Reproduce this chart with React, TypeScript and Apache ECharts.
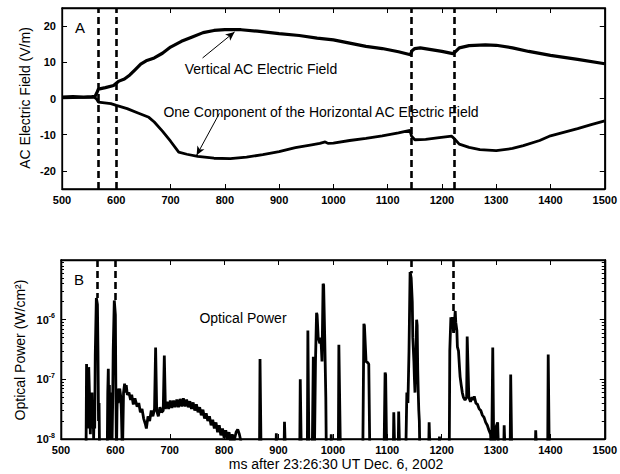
import React, { useEffect, useRef } from "react";
import * as echarts from "echarts";

// Time axis (ms after 23:26:30 UT, Dec. 6 2002)
const timeTicks = [500, 600, 700, 800, 900, 1000, 1100, 1200, 1300, 1400, 1500];
const fieldTicks = [-20, -10, 0, 10, 20];
const powerDecades = [1e-8, 1e-7, 1e-6];
const powerMinorTicks = [
  2e-8, 3e-8, 4e-8, 5e-8, 6e-8, 7e-8, 8e-8, 9e-8,
  2e-7, 3e-7, 4e-7, 5e-7, 6e-7, 7e-7, 8e-7, 9e-7,
  2e-6, 3e-6, 4e-6, 5e-6, 6e-6, 7e-6, 8e-6, 9e-6,
];
// Lightning stroke times (ms) and the optical peak reached at each
const strokeTimes = [566, 600, 1144, 1222];
const strokePeaks = [2.3e-6, 2.1e-6, 6e-6, 1.2e-6];

// Panel A: vertical AC electric field (V/m)
const verticalField: [number, number][] = [
  [500, 0.4], [520, 0.5], [540, 0.4], [555, 0.5], [561, 0.6], [564, 1.5], [567, 2.6],
  [580, 3.0], [595, 3.6], [600, 4.2], [605, 4.8], [615, 5.4], [625, 6.5], [635, 8.0],
  [645, 9.5], [655, 10.4], [670, 11.2], [685, 12.5], [700, 14.2], [720, 15.8],
  [740, 17.0], [760, 18.2], [780, 18.8], [800, 19.0], [830, 19.0], [860, 18.6],
  [900, 17.9], [937, 17.4], [970, 16.7], [1000, 16.2], [1030, 15.3], [1060, 14.4],
  [1090, 13.8], [1120, 12.9], [1142, 12.1], [1145, 13.2], [1150, 13.8], [1160, 14.0],
  [1180, 13.5], [1200, 13.0], [1220, 12.4], [1224, 12.8], [1232, 14.0], [1250, 14.6],
  [1280, 14.8], [1300, 14.7], [1330, 14.0], [1360, 13.0], [1400, 11.9], [1450, 10.8],
  [1500, 9.6],
];

// Panel A: one component of the horizontal AC electric field (V/m)
const horizontalField: [number, number][] = [
  [500, 0.2], [540, 0.3], [560, 0.3], [564, -0.2], [567, -1.0], [590, -1.4], [600, -1.9],
  [620, -2.8], [640, -4.0], [660, -5.2], [670, -6.5], [685, -9.0], [700, -11.8],
  [715, -14.8], [730, -15.4], [750, -16.0], [780, -16.5], [810, -16.6], [840, -16.2],
  [870, -15.5], [900, -14.7], [930, -13.6], [960, -12.8], [975, -12.4], [985, -12.0],
  [990, -12.4], [1000, -12.3], [1030, -11.6], [1060, -11.0], [1090, -10.3],
  [1120, -9.5], [1141, -8.8], [1144, -10.4], [1150, -11.4], [1170, -11.3],
  [1195, -10.8], [1218, -10.4], [1222, -11.0], [1232, -12.6], [1250, -13.5],
  [1270, -14.1], [1300, -14.4], [1330, -13.8], [1350, -13.0], [1380, -11.6],
  [1400, -10.3], [1450, -8.3], [1475, -7.2], [1500, -6.2],
];

// Panel B: optical power (W/cm^2); 5e-9 sits below the axis floor
const opticalPower: [number, number][] = [
  [500, 5e-9], [546, 5e-9], [547, 1.8e-7], [549, 4e-8], [550, 1.5e-8], [551, 1.6e-7],
  [553, 3.4e-8], [554, 1.2e-8], [555, 4e-8], [556, 2e-8], [557, 6e-8], [558, 1.5e-8],
  [559, 4e-8], [560, 1e-8], [561, 3e-8], [562, 1.5e-8], [563, 2.5e-7], [565, 2.3e-6],
  [567, 1.8e-6], [568, 3e-7], [569, 2e-8], [570, 4e-8], [571, 5e-9],
  [585, 5e-9], [586, 6e-8], [587, 1.5e-7], [588, 2e-8], [589, 8e-8], [590, 1e-8],
  [591, 5e-8], [592, 1.2e-8], [593, 6e-8], [594, 1e-8], [595, 4e-8], [596, 3e-7],
  [598, 2.1e-6], [600, 1.2e-6], [601, 5e-8], [602, 5e-9], [603, 3e-8], [604, 7e-8],
  [605, 4e-8], [606, 6e-8], [608, 7e-8], [610, 5e-8], [611, 3e-8], [613, 5e-9],
  [615, 6e-8], [617, 8.5e-8], [618, 6e-8], [620, 8e-8], [622, 5.5e-8], [625, 6e-8],
  [628, 4.5e-8], [630, 5.5e-8], [633, 3.8e-8], [636, 4.8e-8], [640, 3.5e-8], [643, 4e-8],
  [646, 2.8e-8], [649, 3.2e-8], [652, 2.2e-8], [655, 1.8e-8], [657, 1.5e-8], [660, 2.4e-8],
  [663, 2e-8], [666, 3e-8], [669, 2.4e-8], [672, 3.2e-8], [674, 3.4e-7], [676, 3e-8],
  [679, 2.4e-8], [682, 3.4e-8], [685, 2.8e-8], [688, 3e-8], [690, 2.5e-7], [692, 3.2e-8],
  [695, 4.2e-8], [698, 3.2e-8], [701, 4.4e-8], [704, 3.3e-8], [707, 4.4e-8], [710, 3.4e-8],
  [713, 4.6e-8], [716, 3.4e-8], [719, 4.7e-8], [722, 3.5e-8], [725, 4.8e-8], [728, 3.5e-8],
  [731, 4.6e-8], [734, 3.4e-8], [737, 4.3e-8], [740, 3.2e-8], [743, 4.1e-8], [746, 3e-8],
  [749, 3.8e-8], [752, 2.8e-8], [755, 3.4e-8], [758, 2.5e-8], [761, 3.1e-8], [764, 2.2e-8],
  [767, 2.7e-8], [770, 2e-8], [773, 2.4e-8], [776, 1.7e-8], [779, 2.1e-8], [782, 1.5e-8],
  [785, 1.9e-8], [788, 1.3e-8], [791, 1.7e-8], [794, 1.15e-8], [797, 1.5e-8], [800, 1.05e-8],
  [803, 1.4e-8], [806, 1e-8], [809, 1.3e-8], [812, 9e-9], [815, 1.2e-8], [818, 9e-9],
  [822, 1.3e-8], [825, 1.45e-8], [828, 1.2e-8], [831, 9e-9], [834, 5e-9],
  [865, 5e-9], [866, 2.2e-7], [867, 2.2e-7], [868, 5e-9], [895, 5e-9], [896, 1.25e-8],
  [897, 5e-9], [910, 5e-9], [911, 1.95e-8], [912, 1.95e-8], [913, 5e-9], [939, 5e-9],
  [940, 1e-7], [941, 1e-7], [942, 5e-9], [953, 5e-9], [954, 6.6e-7], [955, 6.6e-7],
  [956, 5e-9], [962, 5e-9], [964, 2.4e-7], [966, 5e-9], [968, 2e-7], [970, 1.3e-6],
  [971, 1.2e-6], [973, 5e-7], [976, 4e-7], [978, 5e-7], [980, 2e-7], [982, 4e-6],
  [983, 3.8e-6], [985, 5e-7], [987, 5e-8], [988, 5e-9], [996, 5e-9], [997, 1.2e-8],
  [998, 5e-9], [1010, 5e-9], [1011, 3.8e-7], [1012, 3.8e-7], [1014, 5e-9], [1055, 5e-9],
  [1057, 8.5e-7], [1058, 8e-7], [1061, 2e-7], [1064, 1.9e-7], [1066, 1.8e-7], [1068, 5e-9],
  [1094, 5e-9], [1096, 1.3e-7], [1097, 1.2e-7], [1099, 5e-9], [1111, 5e-9], [1112, 2.8e-8],
  [1113, 2.8e-8], [1114, 5e-9], [1120, 5e-9], [1121, 2.9e-8], [1122, 2.9e-8], [1123, 5e-9],
  [1134, 5e-9], [1136, 6e-8], [1138, 4e-8], [1140, 3e-7], [1142, 6.3e-6], [1144, 5e-6],
  [1146, 2e-6], [1147, 5e-7], [1149, 2e-7], [1150, 1e-7], [1151, 6e-8], [1153, 3e-7],
  [1154, 1e-6], [1155, 8e-7], [1156, 1.5e-7], [1157, 6e-8], [1158, 3e-8], [1159, 2e-8],
  [1160, 5e-9], [1176, 5e-9], [1177, 1.9e-8], [1178, 1.9e-8], [1179, 5e-9], [1195, 5e-9],
  [1196, 1.1e-8], [1197, 5e-9], [1214, 5e-9], [1215, 3e-7], [1217, 1.1e-6], [1219, 8e-7],
  [1220, 1.1e-6], [1222, 6e-7], [1224, 1e-6], [1225, 1.4e-6], [1226, 9e-7], [1228, 6.6e-7],
  [1229, 3.5e-7], [1231, 3e-7], [1233, 1.5e-7], [1234, 1.1e-7], [1236, 8e-8], [1238, 6e-8],
  [1240, 5e-8], [1243, 4.5e-8], [1246, 5e-8], [1247, 5.2e-7], [1248, 5.2e-7], [1250, 5e-8],
  [1253, 4.2e-8], [1256, 5e-8], [1258, 4.5e-8], [1260, 5.2e-8], [1263, 4e-8], [1266, 3.8e-8],
  [1269, 3.2e-8], [1272, 3e-8], [1275, 2.5e-8], [1278, 2.3e-8], [1281, 1.9e-8],
  [1284, 1.7e-8], [1287, 1.4e-8], [1290, 1.2e-8], [1292, 5e-9], [1294, 3.4e-7],
  [1295, 3.4e-7], [1296, 5e-9], [1299, 1.5e-8], [1303, 1.9e-8], [1305, 5e-9],
  [1314, 5e-9], [1315, 1.7e-8], [1316, 1.7e-8], [1317, 5e-9], [1326, 5e-9], [1327, 1.2e-7],
  [1328, 1.2e-7], [1329, 5e-9], [1372, 5e-9], [1373, 1.4e-8], [1374, 1.4e-8], [1375, 5e-9],
  [1395, 5e-9], [1396, 2.6e-7], [1397, 2.6e-7], [1398, 5e-9], [1500, 5e-9],
];

// Annotation arrows, in data coordinates [from, to]
const verticalArrow: [number, number][] = [[759, 11.2], [818, 18.4]];
const horizontalArrow: [number, number][] = [[790, -4.1], [748, -15.7]];

const FONT = "Liberation Sans, Arial, Helvetica, sans-serif";

export default function App() {
  const ref = useRef<HTMLDivElement>(null);

  useEffect(() => {
    if (!ref.current) return;
    const chart = echarts.init(ref.current, null, { renderer: "svg" });

    const tickStyle = { show: true, inside: true, length: 5, lineStyle: { color: "#000", width: 1 } };
    const line = { show: true, onZero: false, lineStyle: { color: "#000", width: 1.3 } };
    const label = { fontSize: 11, color: "#000", fontFamily: FONT, fontWeight: "bold" as const };

    const timeAxis = (gridIndex: number, position: "bottom" | "top", showLabel: boolean) => ({
      type: "value" as const,
      gridIndex,
      position,
      min: 500,
      max: 1500,
      interval: 100,
      axisLine: line,
      axisTick: { ...tickStyle, customValues: timeTicks },
      axisLabel: showLabel
        ? { ...label, margin: 5, customValues: timeTicks, formatter: (v: number) => String(v) }
        : { show: false },
      splitLine: { show: false },
    });

    const fieldAxis = (position: "left" | "right", showLabel: boolean) => ({
      type: "value" as const,
      gridIndex: 0,
      position,
      min: -25,
      max: 25,
      axisLine: line,
      axisTick: { ...tickStyle, customValues: fieldTicks },
      axisLabel: showLabel
        ? { ...label, margin: 6, customValues: fieldTicks, formatter: (v: number) => String(v) }
        : { show: false },
      splitLine: { show: false },
    });

    const powerAxis = (position: "left" | "right", ticks: number[], len: number, showLabel: boolean) => ({
      type: "log" as const,
      logBase: 10,
      gridIndex: 1,
      position,
      min: 1e-8,
      max: 1e-5,
      axisLine: line,
      axisTick: { ...tickStyle, length: len, customValues: ticks },
      axisLabel: showLabel
        ? {
            margin: 6,
            customValues: powerDecades,
            formatter: (v: number) => `{b|10}{s|${Math.round(Math.log10(v))}}`,
            rich: {
              b: { ...label, fontSize: 11 },
              s: { ...label, fontSize: 7, padding: [0, 0, 8, 0] },
            },
          }
        : { show: false },
      splitLine: { show: false },
    });

    const dashStyle = { color: "#000", type: [7, 4], width: 2.6 };

    // Panel A: dashed markers across the full height
    const dashedFull = {
      silent: true,
      symbol: ["none", "none"],
      label: { show: false },
      lineStyle: dashStyle,
      data: strokeTimes.map((t) => ({ xAxis: t })),
    };

    // Panel B: dashed markers from the top of the panel down to each optical peak
    const dashedToPeak = {
      silent: true,
      symbol: ["none", "none"],
      label: { show: false },
      lineStyle: dashStyle,
      data: strokeTimes.map((t, i) => [{ coord: [t, 1e-5] }, { coord: [t, strokePeaks[i]] }]),
    };

    const arrow = (pts: [number, number][]) => ({
      silent: true,
      symbol: ["none", "arrow"],
      symbolSize: [6, 9],
      label: { show: false },
      lineStyle: { color: "#000", type: "solid", width: 1 },
      data: [[{ coord: pts[0] }, { coord: pts[1] }]],
    });

    const text = (t: string, x: number, y: number, size = 14, rotation = 0) => ({
      type: "text",
      x,
      y,
      rotation,
      z: 100,
      style: {
        text: t,
        fontSize: size,
        fontFamily: FONT,
        fill: "#000",
        align: "center",
        verticalAlign: "middle",
      },
    });

    chart.setOption({
      animation: false,
      backgroundColor: "#fff",
      grid: [
        { left: 62, top: 8, width: 545, height: 181, show: true, borderColor: "#000", borderWidth: 1.3 },
        { left: 61, top: 260, width: 546, height: 179, show: true, borderColor: "#000", borderWidth: 1.3 },
      ],
      xAxis: [
        timeAxis(0, "bottom", true),
        timeAxis(0, "top", false),
        timeAxis(1, "bottom", true),
        timeAxis(1, "top", false),
      ],
      yAxis: [
        fieldAxis("left", true),
        fieldAxis("right", false),
        powerAxis("left", powerDecades, 5, true),
        powerAxis("left", powerMinorTicks, 3, false),
        powerAxis("right", powerDecades, 5, false),
        powerAxis("right", powerMinorTicks, 3, false),
      ],
      series: [
        {
          type: "line",
          xAxisIndex: 0,
          yAxisIndex: 0,
          data: verticalField,
          showSymbol: false,
          lineStyle: { color: "#000", width: 3.2 },
          markLine: dashedFull,
          z: 3,
        },
        {
          type: "line",
          xAxisIndex: 0,
          yAxisIndex: 0,
          data: horizontalField,
          showSymbol: false,
          lineStyle: { color: "#000", width: 2.8 },
          markLine: arrow(horizontalArrow),
          z: 3,
        },
        {
          type: "line",
          xAxisIndex: 0,
          yAxisIndex: 0,
          data: [],
          markLine: arrow(verticalArrow),
        },
        {
          type: "line",
          xAxisIndex: 2,
          yAxisIndex: 2,
          data: opticalPower,
          showSymbol: false,
          clip: true,
          lineStyle: { color: "#000", width: 2.8 },
          markLine: dashedToPeak,
          z: 3,
        },
      ],
      graphic: [
        text("A", 80, 27, 15),
        text("B", 79, 279, 15),
        text("Vertical AC Electric Field", 261, 69),
        text("One Component of the Horizontal AC Electric Field", 321, 112),
        text("Optical Power", 243, 318),
        text("AC Electric Field (V/m)", 25, 98, 14, Math.PI / 2),
        text("Optical Power (W/cm\u00B2)", 20, 350, 14, Math.PI / 2),
        text("ms after 23:26:30 UT Dec. 6, 2002", 336, 464),
      ],
    });

    return () => chart.dispose();
  }, []);

  return (
    <div
      ref={ref}
      style={{ position: "absolute", left: 0, top: 0, width: 620, height: 474, background: "#fff" }}
    />
  );
}
